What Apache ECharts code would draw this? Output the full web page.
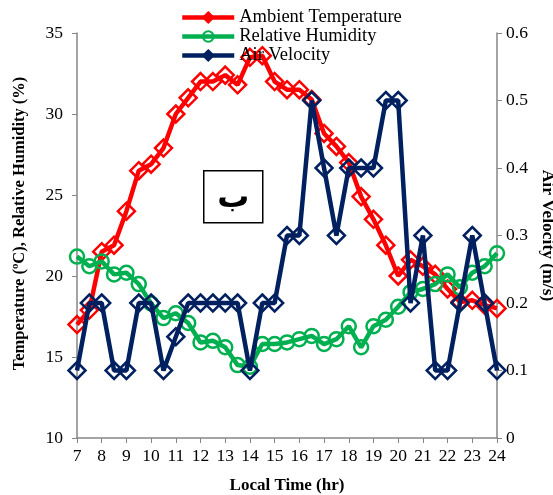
<!DOCTYPE html>
<html>
<head>
<meta charset="utf-8">
<script src="https://cdn.jsdelivr.net/npm/echarts@6/dist/echarts.min.js"></script>
<style>
  html, body { margin: 0; padding: 0; background: #fff; }
  #chart { width: 553px; height: 495px; }
</style>
</head>
<body>
<div id="chart"></div>
<script>
// local time (hr), one reading every half hour
var hours = [7, 7.5, 8, 8.5, 9, 9.5, 10, 10.5, 11, 11.5, 12, 12.5, 13, 13.5, 14, 14.5, 15, 15.5,
    16, 16.5, 17, 17.5, 18, 18.5, 19, 19.5, 20, 20.5, 21, 21.5, 22, 22.5, 23, 23.5, 24];
// ambient temperature (C)
var temperature = [17.0, 17.9, 21.5, 21.9, 24.0, 26.5, 26.9, 27.9, 30.0, 31.0, 32.0, 32.0, 32.4, 31.8,
    33.5, 33.6, 32.0, 31.5, 31.5, 30.9, 28.8, 28.0, 27.0, 24.9, 23.5, 21.9, 20.0, 21.0, 20.6, 20.1,
    19.2, 18.4, 18.5, 18.2, 18.0];
// relative humidity (%)
var humidity = [21.2, 20.6, 20.9, 20.1, 20.2, 19.5, 18.3, 17.4, 17.7, 17.1, 15.9, 16.0, 15.6, 14.5,
    14.4, 15.8, 15.8, 15.9, 16.1, 16.3, 15.8, 16.1, 16.9, 15.6, 16.9, 17.3, 18.1, 19.0, 19.2, 19.5,
    20.1, 19.3, 20.2, 20.6, 21.4];
// air velocity (m/s)
var velocity = [0.1, 0.2, 0.2, 0.1, 0.1, 0.2, 0.2, 0.1, 0.15, 0.2, 0.2, 0.2, 0.2, 0.2, 0.1, 0.2, 0.2,
    0.3, 0.3, 0.5, 0.4, 0.3, 0.4, 0.4, 0.4, 0.5, 0.5, 0.2, 0.3, 0.1, 0.1, 0.2, 0.3, 0.2, 0.1];

var leftTicks = [10, 15, 20, 25, 30, 35];
var rightTicks = [0, 0.1, 0.2, 0.3, 0.4, 0.5, 0.6];

function pairs(v) {
    var out = [];
    for (var i = 0; i < hours.length; i++) out.push([hours[i], v[i]]);
    return out;
}

var font = "'Liberation Serif', 'Times New Roman', serif";
var axisGray = "#868686";

var c = echarts.init(document.getElementById("chart"));
var m = {
    animation: false,
    textStyle: { fontFamily: font },
    grid: { left: 77, right: 56, top: 33, bottom: 57, containLabel: false, outerBoundsMode: "none" },
    legend: {
        orient: "vertical",
        left: 175,
        top: 3,
        itemWidth: 52,
        itemHeight: 13,
        itemGap: 0,
        lineStyle: { width: 4.5 },
        textStyle: { fontFamily: font, fontSize: 18.5, color: "#000" },
        data: [
            { name: "Ambient Temperature", itemStyle: { color: "#ff0000" } },
            { name: "Relative Humidity" },
            { name: "Air Velocity", itemStyle: { color: "#002060" } }
        ]
    },
    xAxis: {
        type: "value",
        min: 7,
        max: 24,
        interval: 1,
        name: "Local Time (hr)",
        nameLocation: "middle",
        nameGap: 39,
        nameTextStyle: { fontFamily: font, fontSize: 17, fontWeight: "bold", color: "#000" },
        axisLine: { lineStyle: { color: axisGray, width: 1.5 } },
        axisTick: { show: true, length: 5, lineStyle: { color: axisGray } },
        axisLabel: { fontFamily: font, fontSize: 17.5, color: "#000", margin: 9 },
        splitLine: { show: false }
    },
    yAxis: [{
            type: "value",
            min: leftTicks[0],
            max: leftTicks[leftTicks.length - 1],
            interval: 5,
            name: "Temperature (\u00baC), Relative Humidity (%)",
            nameLocation: "middle",
            nameGap: 49,
            nameTextStyle: { fontFamily: font, fontSize: 16.5, fontWeight: "bold", color: "#000", padding: [0, 0, 0, 24] },
            axisLine: { show: true, lineStyle: { color: axisGray, width: 1.5 } },
            axisTick: { show: true, length: 5, lineStyle: { color: axisGray } },
            axisLabel: { fontFamily: font, fontSize: 17.5, color: "#000", margin: 14 },
            splitLine: { show: false }
        },
        {
            type: "value",
            min: rightTicks[0],
            max: rightTicks[rightTicks.length - 1],
            interval: 0.1,
            name: "Air Velocity (m/s)",
            nameLocation: "middle",
            nameRotate: -90,
            nameGap: 33,
            nameTextStyle: { fontFamily: font, fontSize: 17.5, fontWeight: "bold", color: "#000" },
            axisLine: { show: true, lineStyle: { color: axisGray, width: 1.5 } },
            axisTick: { show: true, length: 5, lineStyle: { color: axisGray } },
            axisLabel: { fontFamily: font, fontSize: 17.5, color: "#000", margin: 9 },
            splitLine: { show: false }
        }
    ],
    graphic: [{
        type: "group",
        left: 203,
        top: 170,
        children: [{
                type: "rect",
                shape: { x: 0, y: 0, width: 59, height: 52 },
                style: { fill: "#fff", stroke: "#000", lineWidth: 1.5 }
            },
            {
                type: "text",
                x: 29.5,
                y: 28,
                style: {
                    text: "\u0628",
                    font: "bold 32px 'DejaVu Sans', 'Noto Sans', sans-serif",
                    fill: "#000",
                    align: "center",
                    verticalAlign: "middle"
                }
            }
        ]
    }],
    series: [{
            name: "Ambient Temperature",
            type: "line",
            yAxisIndex: 0,
            data: pairs(temperature),
            symbol: "diamond",
            symbolSize: 17,
            lineStyle: { color: "#ff0000", width: 4.5 },
            itemStyle: { color: "rgba(255,255,255,0)", borderColor: "#ff0000", borderWidth: 2.5 },
            emphasis: { disabled: true },
            z: 2
        },
        {
            name: "Relative Humidity",
            type: "line",
            yAxisIndex: 0,
            data: pairs(humidity),
            symbol: "circle",
            symbolSize: 14,
            lineStyle: { color: "#00b050", width: 4.5 },
            itemStyle: { color: "rgba(255,255,255,0)", borderColor: "#00b050", borderWidth: 2.5 },
            emphasis: { disabled: true },
            z: 3
        },
        {
            name: "Air Velocity",
            type: "line",
            yAxisIndex: 1,
            data: pairs(velocity),
            symbol: "diamond",
            symbolSize: 17,
            lineStyle: { color: "#002060", width: 4.5 },
            itemStyle: { color: "rgba(255,255,255,0)", borderColor: "#002060", borderWidth: 2.5 },
            emphasis: { disabled: true },
            z: 4
        }
    ]
};
c.setOption(m);
</script>
</body>
</html>
